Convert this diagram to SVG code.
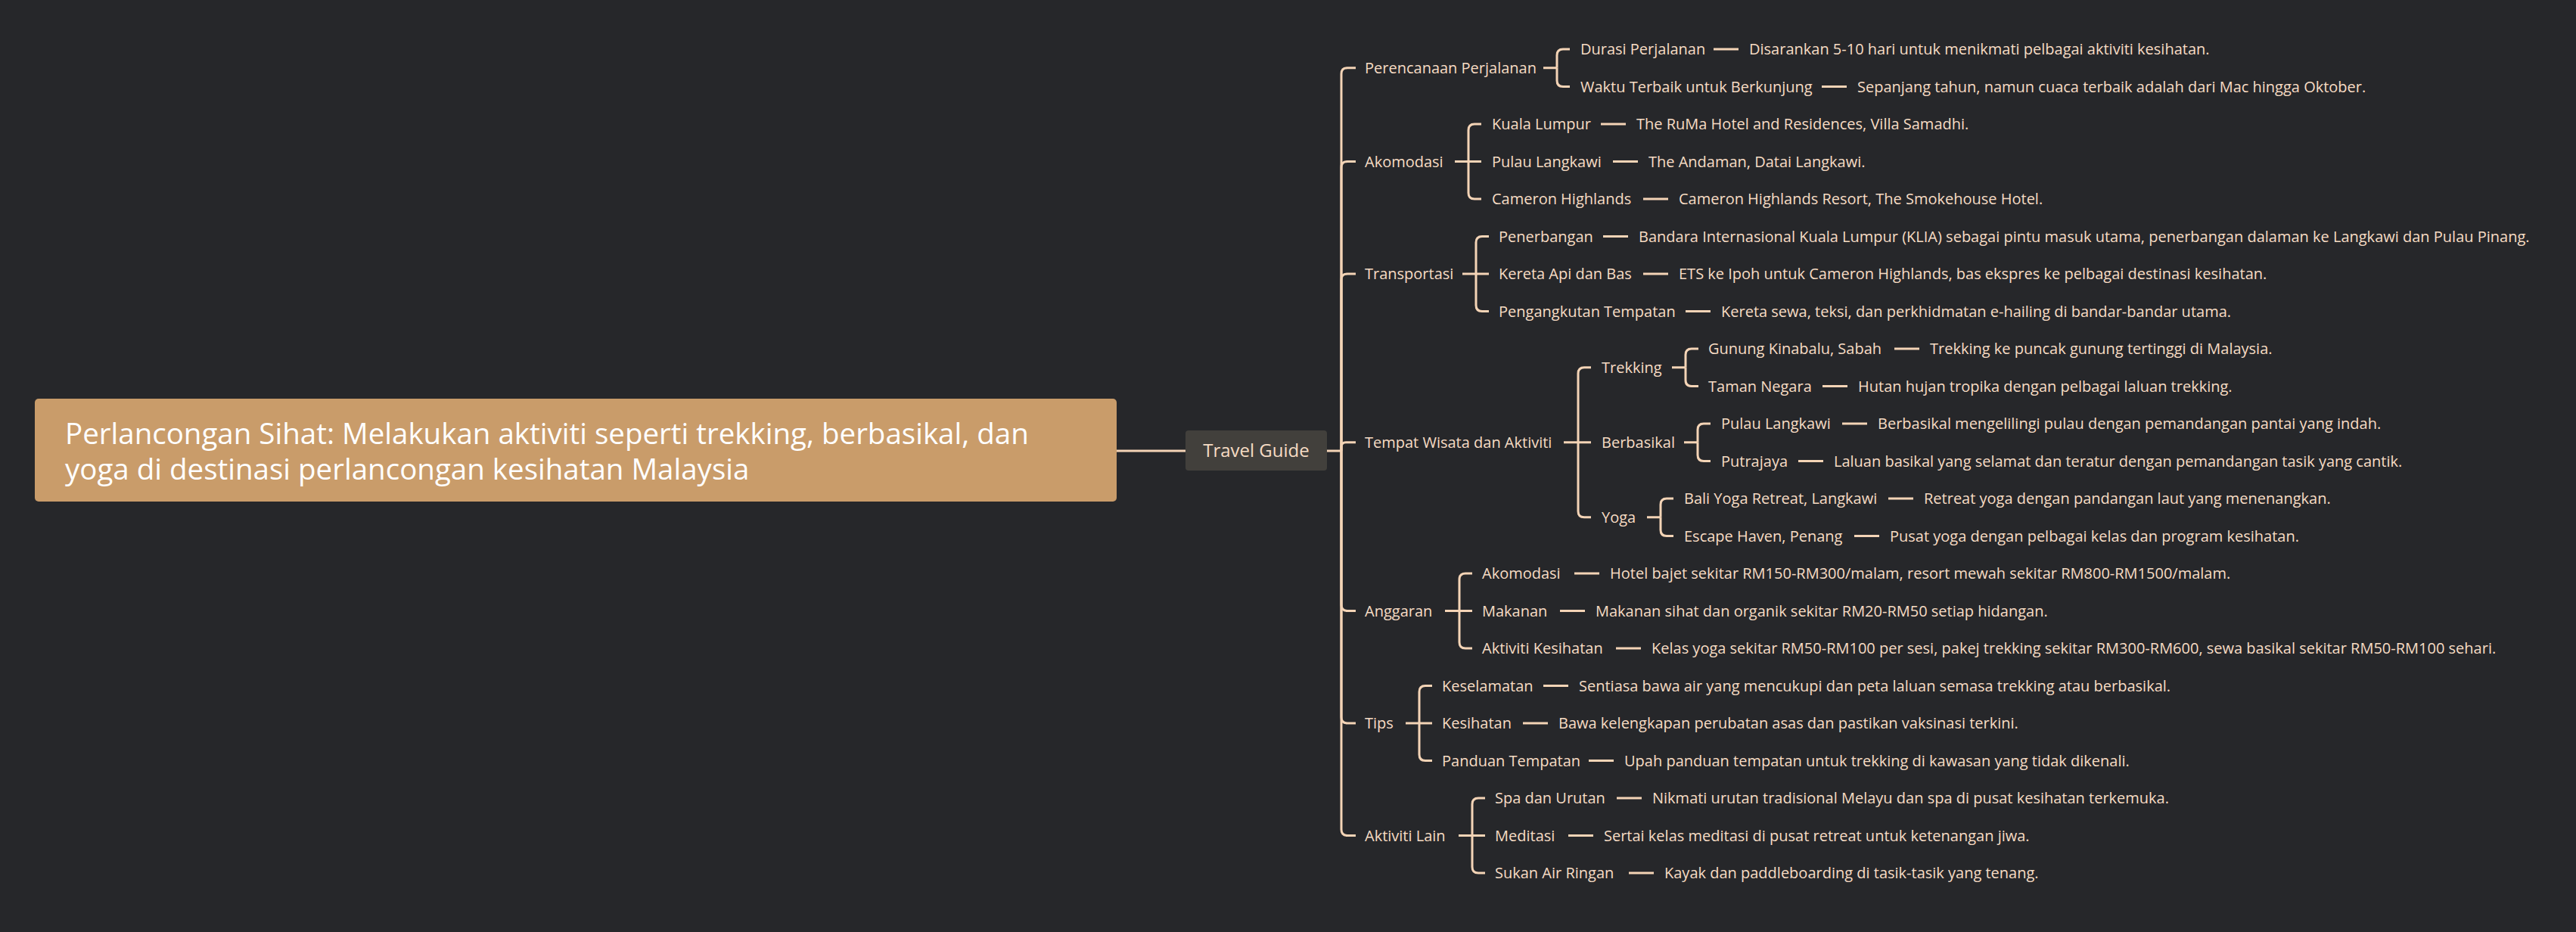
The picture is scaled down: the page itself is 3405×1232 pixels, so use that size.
<svg xmlns="http://www.w3.org/2000/svg" width="3405" height="1232" viewBox="0 0 3405 1232">
<style>
.bg{fill:#26272a}
.ln{fill:none;stroke:#f4d4b6;stroke-width:3;stroke-linecap:butt}
.t{font-family:"Open Sans","Noto Sans","Liberation Sans",sans-serif;font-size:20px;fill:#f6dcc4}
.root{fill:#c99c6a}
.rt{font-family:"Open Sans","Noto Sans","Liberation Sans",sans-serif;font-size:38.5px;fill:#ffffff}
.tg{fill:#42403c}
.tgt{font-family:"Open Sans","Noto Sans","Liberation Sans",sans-serif;font-size:24px;fill:#f6dcc4}
</style>
<rect class="bg" x="0" y="0" width="3405" height="1232"/>

<g id="connectors">
<path class="ln" d="M1476 596 H1567"/>
<path class="ln" d="M1754 596 H1773"/>
<!-- trunk -->
<path class="ln" d="M1773 596 V97.75 Q1773 89.75 1781 89.75 H1792"/>
<path class="ln" d="M1773 596 V221.5 Q1773 213.5 1781 213.5 H1792"/>
<path class="ln" d="M1773 596 V370 Q1773 362 1781 362 H1792"/>
<path class="ln" d="M1773 596 V590.75 Q1773 584.75 1779 584.75 H1792"/>
<path class="ln" d="M1773 596 V799.5 Q1773 807.5 1781 807.5 H1792"/>
<path class="ln" d="M1773 596 V948 Q1773 956 1781 956 H1792"/>
<path class="ln" d="M1773 596 V1096.5 Q1773 1104.5 1781 1104.5 H1792"/>
<!-- Perencanaan -->
<path class="ln" d="M2040 89.75 H2058"/>
<path class="ln" d="M2058 89.75 V73 Q2058 65 2066 65 H2075"/>
<path class="ln" d="M2058 89.75 V106.5 Q2058 114.5 2066 114.5 H2075"/>
<!-- Akomodasi -->
<path class="ln" d="M1923 213.5 H1941"/>
<path class="ln" d="M1941 213.5 V172 Q1941 164 1949 164 H1958"/>
<path class="ln" d="M1941 213.5 H1958"/>
<path class="ln" d="M1941 213.5 V255 Q1941 263 1949 263 H1958"/>
<!-- Transportasi -->
<path class="ln" d="M1933 362 H1951"/>
<path class="ln" d="M1951 362 V320.5 Q1951 312.5 1959 312.5 H1968"/>
<path class="ln" d="M1951 362 H1968"/>
<path class="ln" d="M1951 362 V403.5 Q1951 411.5 1959 411.5 H1968"/>
<!-- Tempat Wisata -->
<path class="ln" d="M2067 584.75 H2086"/>
<path class="ln" d="M2086 584.75 V493.75 Q2086 485.75 2094 485.75 H2103"/>
<path class="ln" d="M2086 584.75 H2103"/>
<path class="ln" d="M2086 584.75 V675.75 Q2086 683.75 2094 683.75 H2103"/>
<!-- Trekking -->
<path class="ln" d="M2210 485.75 H2228"/>
<path class="ln" d="M2228 485.75 V469 Q2228 461 2236 461 H2245"/>
<path class="ln" d="M2228 485.75 V502.5 Q2228 510.5 2236 510.5 H2245"/>
<!-- Berbasikal -->
<path class="ln" d="M2226 584.75 H2244"/>
<path class="ln" d="M2244 584.75 V568 Q2244 560 2252 560 H2261"/>
<path class="ln" d="M2244 584.75 V601.5 Q2244 609.5 2252 609.5 H2261"/>
<!-- Yoga -->
<path class="ln" d="M2177 683.75 H2195"/>
<path class="ln" d="M2195 683.75 V667 Q2195 659 2203 659 H2212"/>
<path class="ln" d="M2195 683.75 V700.5 Q2195 708.5 2203 708.5 H2212"/>
<!-- Anggaran -->
<path class="ln" d="M1910 807.5 H1929"/>
<path class="ln" d="M1929 807.5 V766 Q1929 758 1937 758 H1946"/>
<path class="ln" d="M1929 807.5 H1946"/>
<path class="ln" d="M1929 807.5 V849 Q1929 857 1937 857 H1946"/>
<!-- Tips -->
<path class="ln" d="M1858 956 H1876"/>
<path class="ln" d="M1876 956 V914.5 Q1876 906.5 1884 906.5 H1893"/>
<path class="ln" d="M1876 956 H1893"/>
<path class="ln" d="M1876 956 V997.5 Q1876 1005.5 1884 1005.5 H1893"/>
<!-- Aktiviti Lain -->
<path class="ln" d="M1928 1104.5 H1946"/>
<path class="ln" d="M1946 1104.5 V1063 Q1946 1055 1954 1055 H1963"/>
<path class="ln" d="M1946 1104.5 H1963"/>
<path class="ln" d="M1946 1104.5 V1146 Q1946 1154 1954 1154 H1963"/>
<!-- leaf dashes -->
<path class="ln" d="M2265 65 h33 M2408 114.5 h33 M2116 164 h33 M2132 213.5 h33 M2172 263 h33 M2119 312.5 h33 M2172 362 h33 M2228 411.5 h33 M2504 461 h33 M2409 510.5 h33 M2435 560 h33 M2377 609.5 h33 M2496 659 h33 M2451 708.5 h33 M2081 758 h33 M2062 807.5 h33 M2136 857 h33 M2040 906.5 h33 M2013 956 h33 M2100 1005.5 h33 M2137 1055 h33 M2073 1104.5 h33 M2153 1154 h33"/>
</g>

<g id="root">
<rect class="root" x="46" y="527" width="1430" height="136" rx="5"/>
<text class="rt" x="86" y="587">Perlancongan Sihat: Melakukan aktiviti seperti trekking, berbasikal, dan</text>
<text class="rt" x="86" y="634">yoga di destinasi perlancongan kesihatan Malaysia</text>
</g>
<g id="travel-guide">
<rect class="tg" x="1567" y="569" width="187" height="53" rx="4"/>
<text class="tgt" x="1660.5" y="604" text-anchor="middle">Travel Guide</text>
</g>

<g id="perencanaan"><text class="t" x="1804" y="96.75">Perencanaan Perjalanan</text></g>
<g id="durasi"><text class="t" x="2089" y="72">Durasi Perjalanan</text><text class="t" x="2312" y="72">Disarankan 5-10 hari untuk menikmati pelbagai aktiviti kesihatan.</text></g>
<g id="waktu"><text class="t" x="2089" y="121.5">Waktu Terbaik untuk Berkunjung</text><text class="t" x="2455" y="121.5">Sepanjang tahun, namun cuaca terbaik adalah dari Mac hingga Oktober.</text></g>

<g id="akomodasi"><text class="t" x="1804" y="220.5">Akomodasi</text></g>
<g id="kuala-lumpur"><text class="t" x="1972" y="171">Kuala Lumpur</text><text class="t" x="2163" y="171">The RuMa Hotel and Residences, Villa Samadhi.</text></g>
<g id="pulau-langkawi-1"><text class="t" x="1972" y="220.5">Pulau Langkawi</text><text class="t" x="2179" y="220.5">The Andaman, Datai Langkawi.</text></g>
<g id="cameron"><text class="t" x="1972" y="270">Cameron Highlands</text><text class="t" x="2219" y="270">Cameron Highlands Resort, The Smokehouse Hotel.</text></g>

<g id="transportasi"><text class="t" x="1804" y="369">Transportasi</text></g>
<g id="penerbangan"><text class="t" x="1981" y="319.5">Penerbangan</text><text class="t" x="2166" y="319.5">Bandara Internasional Kuala Lumpur (KLIA) sebagai pintu masuk utama, penerbangan dalaman ke Langkawi dan Pulau Pinang.</text></g>
<g id="kereta-api"><text class="t" x="1981" y="369">Kereta Api dan Bas</text><text class="t" x="2219" y="369">ETS ke Ipoh untuk Cameron Highlands, bas ekspres ke pelbagai destinasi kesihatan.</text></g>
<g id="pengangkutan"><text class="t" x="1981" y="418.5">Pengangkutan Tempatan</text><text class="t" x="2275" y="418.5">Kereta sewa, teksi, dan perkhidmatan e-hailing di bandar-bandar utama.</text></g>

<g id="tempat-wisata"><text class="t" x="1804" y="591.75">Tempat Wisata dan Aktiviti</text></g>
<g id="trekking"><text class="t" x="2117" y="492.75">Trekking</text></g>
<g id="gunung-kinabalu"><text class="t" x="2258" y="468">Gunung Kinabalu, Sabah</text><text class="t" x="2551" y="468">Trekking ke puncak gunung tertinggi di Malaysia.</text></g>
<g id="taman-negara"><text class="t" x="2258" y="517.5">Taman Negara</text><text class="t" x="2456" y="517.5">Hutan hujan tropika dengan pelbagai laluan trekking.</text></g>
<g id="berbasikal"><text class="t" x="2117" y="591.75">Berbasikal</text></g>
<g id="pulau-langkawi-2"><text class="t" x="2275" y="567">Pulau Langkawi</text><text class="t" x="2482" y="567">Berbasikal mengelilingi pulau dengan pemandangan pantai yang indah.</text></g>
<g id="putrajaya"><text class="t" x="2275" y="616.5">Putrajaya</text><text class="t" x="2424" y="616.5">Laluan basikal yang selamat dan teratur dengan pemandangan tasik yang cantik.</text></g>
<g id="yoga"><text class="t" x="2117" y="690.75">Yoga</text></g>
<g id="bali-yoga"><text class="t" x="2226" y="666">Bali Yoga Retreat, Langkawi</text><text class="t" x="2543" y="666">Retreat yoga dengan pandangan laut yang menenangkan.</text></g>
<g id="escape-haven"><text class="t" x="2226" y="715.5">Escape Haven, Penang</text><text class="t" x="2498" y="715.5">Pusat yoga dengan pelbagai kelas dan program kesihatan.</text></g>

<g id="anggaran"><text class="t" x="1804" y="814.5">Anggaran</text></g>
<g id="akomodasi-2"><text class="t" x="1959" y="765">Akomodasi</text><text class="t" x="2128" y="765">Hotel bajet sekitar RM150-RM300/malam, resort mewah sekitar RM800-RM1500/malam.</text></g>
<g id="makanan"><text class="t" x="1959" y="814.5">Makanan</text><text class="t" x="2109" y="814.5">Makanan sihat dan organik sekitar RM20-RM50 setiap hidangan.</text></g>
<g id="aktiviti-kesihatan"><text class="t" x="1959" y="864">Aktiviti Kesihatan</text><text class="t" x="2183" y="864">Kelas yoga sekitar RM50-RM100 per sesi, pakej trekking sekitar RM300-RM600, sewa basikal sekitar RM50-RM100 sehari.</text></g>

<g id="tips"><text class="t" x="1804" y="963">Tips</text></g>
<g id="keselamatan"><text class="t" x="1906" y="913.5">Keselamatan</text><text class="t" x="2087" y="913.5">Sentiasa bawa air yang mencukupi dan peta laluan semasa trekking atau berbasikal.</text></g>
<g id="kesihatan"><text class="t" x="1906" y="963">Kesihatan</text><text class="t" x="2060" y="963">Bawa kelengkapan perubatan asas dan pastikan vaksinasi terkini.</text></g>
<g id="panduan"><text class="t" x="1906" y="1012.5">Panduan Tempatan</text><text class="t" x="2147" y="1012.5">Upah panduan tempatan untuk trekking di kawasan yang tidak dikenali.</text></g>

<g id="aktiviti-lain"><text class="t" x="1804" y="1111.5">Aktiviti Lain</text></g>
<g id="spa"><text class="t" x="1976" y="1062">Spa dan Urutan</text><text class="t" x="2184" y="1062">Nikmati urutan tradisional Melayu dan spa di pusat kesihatan terkemuka.</text></g>
<g id="meditasi"><text class="t" x="1976" y="1111.5">Meditasi</text><text class="t" x="2120" y="1111.5">Sertai kelas meditasi di pusat retreat untuk ketenangan jiwa.</text></g>
<g id="sukan-air"><text class="t" x="1976" y="1161">Sukan Air Ringan</text><text class="t" x="2200" y="1161">Kayak dan paddleboarding di tasik-tasik yang tenang.</text></g>
</svg>
